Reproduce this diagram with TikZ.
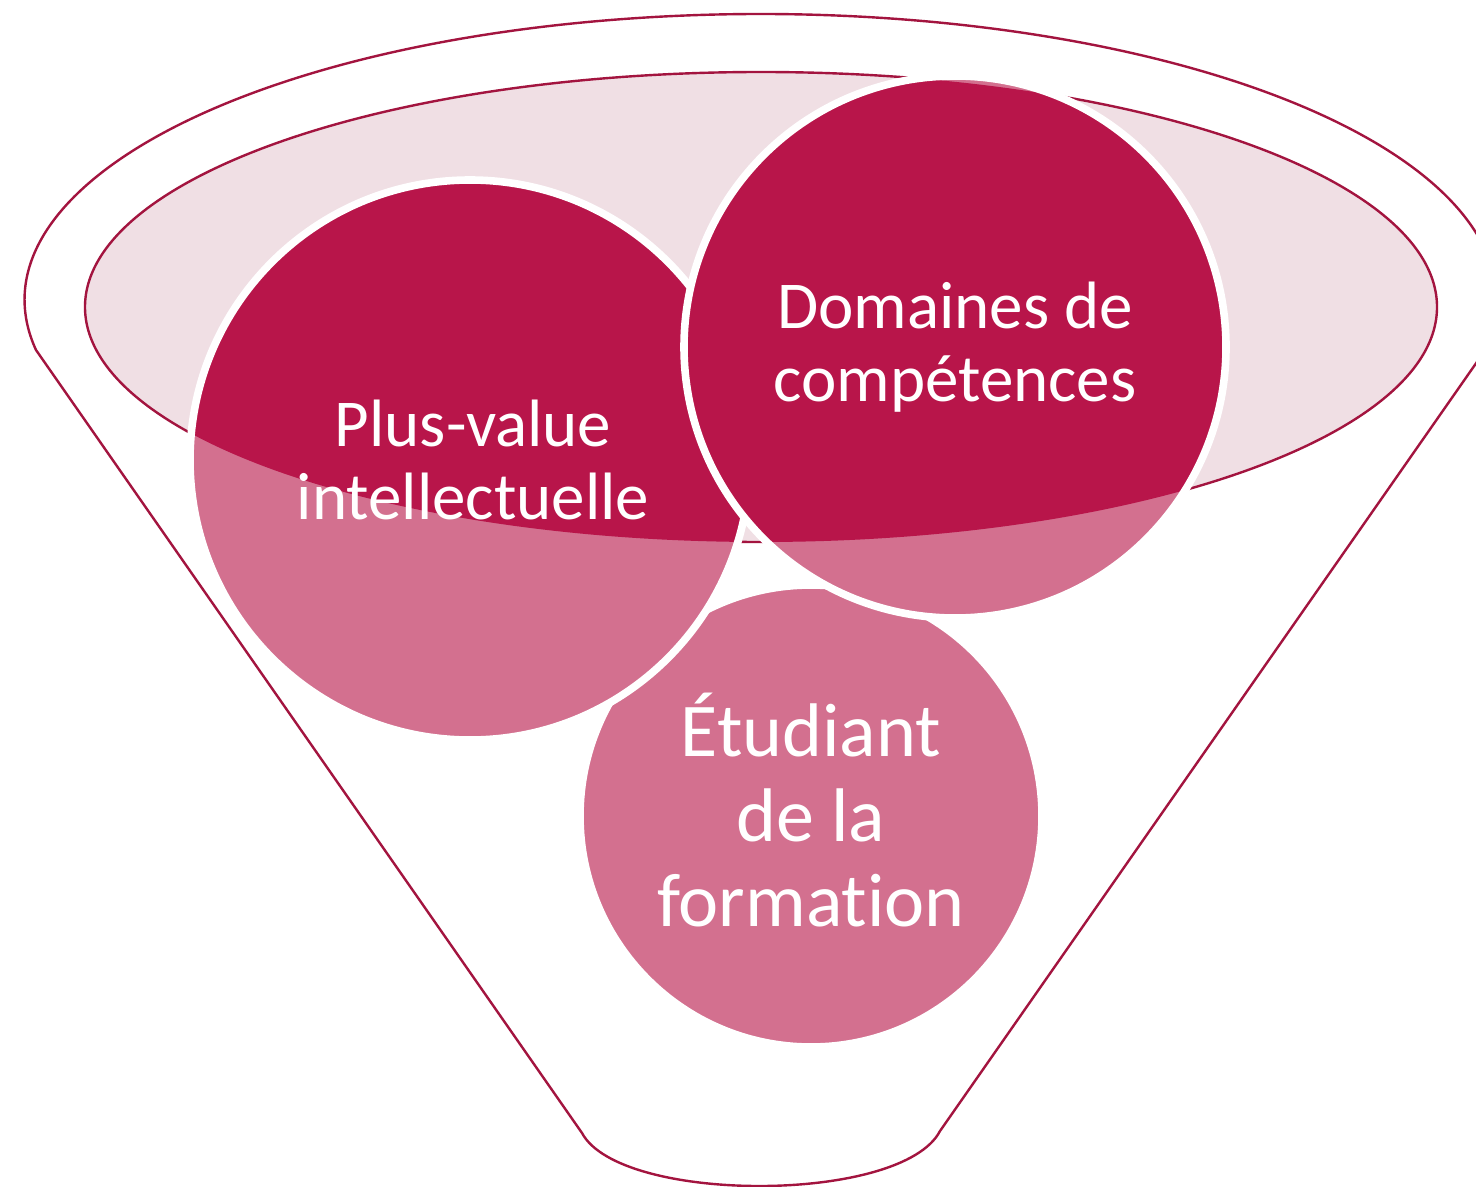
\documentclass[tikz,border=0pt]{standalone}
\usepackage{fontspec}
\setmainfont{Carlito}[RawFeature={-liga}]
\definecolor{darkc}{HTML}{B8154A}
\definecolor{lightc}{HTML}{D3708F}
\definecolor{palec}{HTML}{F0DFE4}
\definecolor{rimc}{HTML}{A3143F}
\begin{document}
\begin{tikzpicture}[x=0.5pt,y=0.5pt,
  rimline/.style={draw=rimc, line width=1.2pt},
  bubbleborder/.style={draw=white, line width=3.8pt},
  lbl/.style={text=white, align=center, inner sep=0pt, font=\fontsize{33.5}{36.5}\selectfont},
  lblbig/.style={lbl, font=\fontsize{38}{42.5}\selectfont}]
\useasboundingbox (0,0) rectangle (1476,-1187);
\fill[white] (0,0) rectangle (1476,-1187);
% funnel outline
\coordinate (rimL) at (36,-350);
\coordinate (botR) at (940,-1131);
\coordinate (botL) at (582,-1133);
\draw[rimline] (rimL) arc[start angle=190.07, end angle=-10.07, x radius=736, y radius=286]
  -- (botR) .. controls (902,-1204) and (620,-1204) .. (botL) -- cycle;
% inner ellipse
\coordinate (ell) at (761,-307);
\filldraw[fill=palec, rimline] (ell) ellipse[x radius=676, y radius=235];
% circle centres
\coordinate (cE) at (811,-816);
\coordinate (cP) at (470,-460);
\coordinate (cD) at (955,-347);
\foreach \c/\r in {cE/231, cP/280, cD/271}{
  \fill[lightc] (\c) circle[radius=\r];
  \begin{scope}
    \clip (ell) ellipse[x radius=676, y radius=235];
    \fill[darkc] (\c) circle[radius=\r];
  \end{scope}
  \draw[bubbleborder] (\c) circle[radius=\r];
}
\node[lbl] (plus) at ([xshift=1.5pt]cP) {Plus-value\\intellectuelle};
\node[lbl] (dom) at (cD) {Domaines de\\compétences};
\node[lblbig] (etu) at ([yshift=3pt]cE) {Étudiant\\de la\\formation};
\end{tikzpicture}
\end{document}
